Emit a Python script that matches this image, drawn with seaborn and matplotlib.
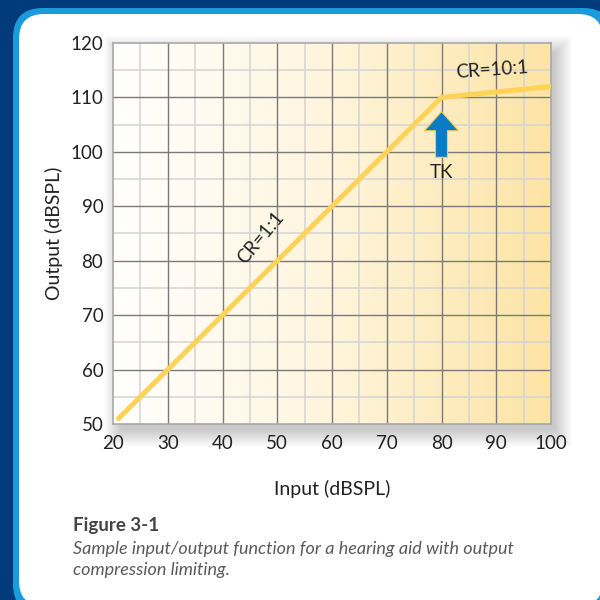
import numpy as np
import pandas as pd
import matplotlib
matplotlib.use("Agg")
import matplotlib.pyplot as plt
import seaborn as sns
from matplotlib.patches import FancyBboxPatch, Rectangle
from matplotlib.colors import LinearSegmentedColormap

# ---- data ----
input_db = [21, 80, 100]
output_db = [51, 110, 112]
x_ticks = [20, 30, 40, 50, 60, 70, 80, 90, 100]
y_ticks = [50, 60, 70, 80, 90, 100, 110, 120]
knee_label = "TK"
label_linear = "CR=1:1"
label_comp = "CR=10:1"
x_label = "Input (dBSPL)"
y_label = "Output (dBSPL)"
fig_title = "Figure 3-1"
caption_lines = ["Sample input/output function for a hearing aid with output",
                 "compression limiting."]

sns.set_theme(style="white")
plt.rcParams['font.family'] = ['Lato', 'DejaVu Sans']

W, H = 600, 600
fig = plt.figure(figsize=(6, 6), dpi=100)
fig.patch.set_facecolor('#013B7B')

def px(x, y, w, h):
    return (x / W, 1 - (y + h) / H, w / W, h / H)

# panel border and white panel
bx, by, bw, bh = px(13, 8, 600, 606)
fig.patches.append(FancyBboxPatch((bx, by), bw, bh, boxstyle="round,pad=0,rounding_size=0.05",
                                  transform=fig.transFigure, fc='#1A9BDB', ec='none', zorder=-3))
wx, wy, ww, wh = px(19, 14, 584, 592)
fig.patches.append(FancyBboxPatch((wx, wy), ww, wh, boxstyle="round,pad=0,rounding_size=0.042",
                                  transform=fig.transFigure, fc='white', ec='none', zorder=-2))

# axes
L, T, R, B = 113, 43, 551, 424
ax = fig.add_axes(px(L, T, R - L, B - T))
ax.set_zorder(1)

# soft shadow (offset right/down, blurred by stacked translucent rectangles)
for i in range(18):
    sx, sy, sw, sh = px(L + 8 - i, T + 10 - i, (R - L) + 2 * i - 4, (B - T) + 2 * i - 4)
    fig.patches.append(Rectangle((sx, sy), sw, sh, transform=fig.transFigure,
                                 fc='black', ec='none', alpha=0.01, zorder=-1))

# gradient background
cmap = LinearSegmentedColormap.from_list('bg', ['#FFFFFF', '#FFF5DC', '#FDE4A5'])
grad = np.linspace(0, 1, 256).reshape(1, -1)
ax.imshow(grad, extent=[20, 100, 50, 120], aspect='auto', cmap=cmap, zorder=0)

# grid
for v in np.arange(25, 100, 10):
    ax.axvline(v, color='#D4D4D4', lw=1.1, zorder=1)
for v in np.arange(55, 120, 10):
    ax.axhline(v, color='#D4D4D4', lw=1.1, zorder=1)
for v in x_ticks[1:-1]:
    ax.axvline(v, color='#7A7A7A', lw=1.0, zorder=1.2)
for v in y_ticks[1:-1]:
    ax.axhline(v, color='#7A7A7A', lw=1.0, zorder=1.2)

df = pd.DataFrame({'input': input_db, 'output': output_db})
sns.lineplot(data=df, x='input', y='output', ax=ax, color='#FDD256', lw=3.6,
             solid_capstyle='round', solid_joinstyle='round', zorder=3, sort=False)

ax.set_xlim(20, 100)
ax.set_ylim(50, 120)
ax.set_xticks(x_ticks)
ax.set_yticks(y_ticks)
ax.tick_params(axis='x', labelsize=13.5, pad=8, colors='#222222', length=0)
ax.tick_params(axis='y', labelsize=13.5, pad=7, colors='#222222', length=0)
for s in ax.spines.values():
    s.set_color('#A8A8A8')
    s.set_linewidth(1.2)
ax.set_xlabel(x_label, fontsize=14, color='#222222', labelpad=20)
ax.set_ylabel(y_label, fontsize=14, color='#222222', labelpad=5)

# arrow at knee
ax.annotate('', xy=(80, 107.4), xytext=(80, 99.0),
            arrowprops=dict(arrowstyle='simple,head_width=2.05,head_length=1.15,tail_width=0.72',
                            fc='#0A7CC4', ec='#F6CC4E', lw=0.8, shrinkA=0, shrinkB=0), zorder=4)
ax.text(80, 96.2, knee_label, ha='center', va='center', fontsize=13.5, color='#222222', zorder=5)
ax.text(89.3, 115.1, label_comp, ha='center', va='center', fontsize=13.5, color='#222222',
        rotation=4, zorder=5)
ax.text(47.0, 84.3, label_linear, ha='center', va='center', fontsize=13.5, color='#222222',
        rotation=50, zorder=5)

# caption
fig.text(73 / W, 1 - 526 / H, fig_title, fontsize=13.5, fontweight='bold', color='#444444',
         va='center', ha='left')
for i, line in enumerate(caption_lines):
    fig.text(73 / W, 1 - (549 + 21 * i) / H, line, fontsize=13, style='italic',
             color='#5A5A5A', va='center', ha='left')

fig.savefig('out.png', dpi=100, facecolor=fig.get_facecolor())
